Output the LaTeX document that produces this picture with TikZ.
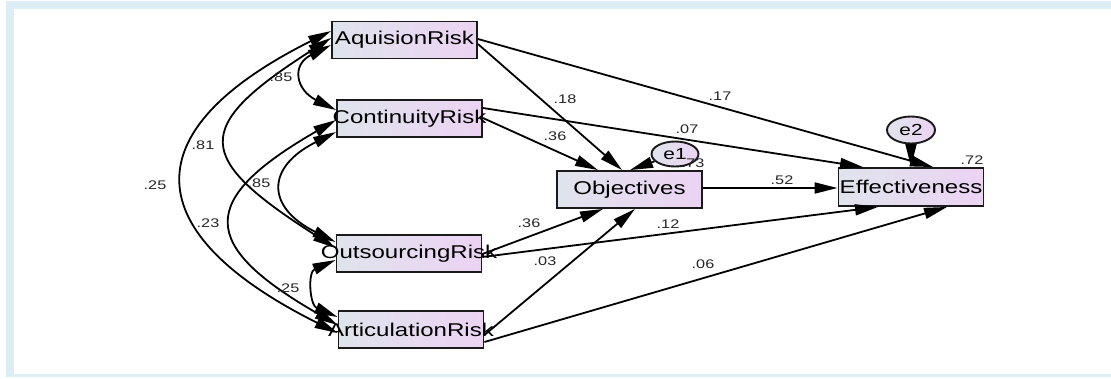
\documentclass[tikz,border=0pt]{standalone}
\usepackage{fontspec}
\setmainfont{Liberation Sans}[FakeStretch=1.3]
\usetikzlibrary{arrows.meta,calc,shapes.geometric}
\definecolor{bandblue}{HTML}{DCEDF3}
\definecolor{gleft}{HTML}{DFE4EC}
\definecolor{gright}{HTML}{ECD3F3}
\definecolor{edgecol}{HTML}{1A1A1A}
\begin{document}
\begin{tikzpicture}[x=1pt,y=-1pt,
  >={Triangle[length=23pt,width=11pt]},
  var/.style={draw=edgecol,line width=1.9pt,left color=gleft,right color=gright,
    minimum width=145pt,minimum height=37pt,inner sep=0pt,
    font=\fontsize{18.5}{20}\selectfont},
  err/.style={ellipse,draw=edgecol,line width=1.9pt,left color=gleft,right color=gright,
    minimum width=47pt,minimum height=25pt,inner sep=0pt,
    font=\fontsize{16}{18}\selectfont},
  conn/.style={line width=1.8pt,->},
  cov/.style={line width=1.8pt,<->},
  coef/.style={font=\fontsize{12.5}{13}\selectfont,text=black!85,inner sep=0pt}
]
\useasboundingbox (0,0) rectangle (1111,378);
\fill[white] (0,0) rectangle (1111,378);
\fill[bandblue] (6,1) rectangle (1111,377);
\fill[white] (14,9) rectangle (1111,374);

% variables
\node[var] (A)   at (404.5,40)    {\makebox[0pt]{AquisionRisk}};
\node[var] (C)   at (409.5,118.5) {\makebox[0pt]{ContinuityRisk}};
\node[var] (O)   at (409,253.5)   {\makebox[0pt]{OutsourcingRisk}};
\node[var] (Ar)  at (411,329.5)   {\makebox[0pt]{ArticulationRisk}};
\node[var] (Obj) at (629.5,189.5) {\makebox[0pt]{Objectives}};
\node[var,minimum height=38pt] (Eff) at (911,187) {\makebox[0pt]{Effectiveness}};

% covariances
\draw[cov] ($(A.west)+(0,5)$)   .. controls +(-40,20)  and +(-40,-20)  .. ($(C.west)+(0,-8.5)$);
\draw[cov] ($(A.west)+(0,-2)$)  .. controls +(-141,90) and +(-141,-90) .. ($(O.west)+(0,-5.5)$);
\draw[cov] ($(A.west)+(0,-9)$)  .. controls +(-200,100) and +(-200,-100) .. ($(Ar.west)+(0,3.5)$);
\draw[cov] ($(C.west)+(0,13.5)$) .. controls +(-70,35) and +(-70,-35) .. ($(O.west)+(0,-11.5)$);
\draw[cov] ($(C.west)+(0,1.5)$) .. controls +(-139,80) and +(-139,-80) .. ($(Ar.west)+(0,-4.5)$);
\draw[cov] ($(O.west)+(0,6.5)$) .. controls +(-28,12) and +(-28,-12) .. ($(Ar.west)+(0,-12.5)$);

% paths
\draw[conn] ($(A.east)+(0,4)$)     -- ($(Obj.north)+(-7.5,0)$);
\draw[conn] ($(A.east)+(0,-1)$)    -- ($(Eff.north)+(22,0)$);
\draw[conn] ($(C.east)+(0,-0.5)$)  -- ($(Obj.north)+(-31.5,0)$);
\draw[conn] ($(C.east)+(0,-10.5)$) -- ($(Eff.north)+(-48,0)$);
\draw[conn] ($(O.east)+(0,0.5)$)   -- ($(Obj.south)+(-26.5,0)$);
\draw[conn] ($(O.east)+(0,3.5)$)   -- ($(Eff.south)+(-33,0)$);
\draw[conn] ($(Ar.east)+(0,5.5)$)  -- ($(Obj.south)+(5.5,0)$);
\draw[conn] ($(Ar.east)+(0,12.5)$) -- ($(Eff.south)+(36,0)$);
\draw[conn] ($(Obj.east)+(0,-1.5)$) -- ($(Eff.west)+(0,1)$);

% error terms
\node[err] (e1) at (675,154) {e1};
\node[err,minimum width=48pt,minimum height=27pt] (e2) at (911,130) {e2};
\draw[conn] (e1) -- ($(Obj.north)+(0.5,0)$);
\draw[conn] (e2) -- (Eff.north);

% coefficients
\node[coef] (l73) at (693,163) {.73};
\node[coef] (l72) at (972,160) {.72};
\node[coef] (l18) at (565,99) {.18};
\node[coef] (l17) at (720,96) {.17};
\node[coef] (l07) at (687,129) {.07};
\node[coef] (l36a) at (555,136) {.36};
\node[coef] (l52) at (782,180) {.52};
\node[coef] (l36b) at (529,223) {.36};
\node[coef] (l12) at (668,224) {.12};
\node[coef] (l03) at (545,261) {.03};
\node[coef] (l06) at (703,264) {.06};
\node[coef] (c85a) at (281,77) {.85};
\node[coef] (c81) at (203,145) {.81};
\node[coef] (c25a) at (155,185) {.25};
\node[coef] (c85b) at (259,183) {.85};
\node[coef] (c23) at (208,223) {.23};
\node[coef] (c25b) at (288,288) {.25};
\end{tikzpicture}
\end{document}
